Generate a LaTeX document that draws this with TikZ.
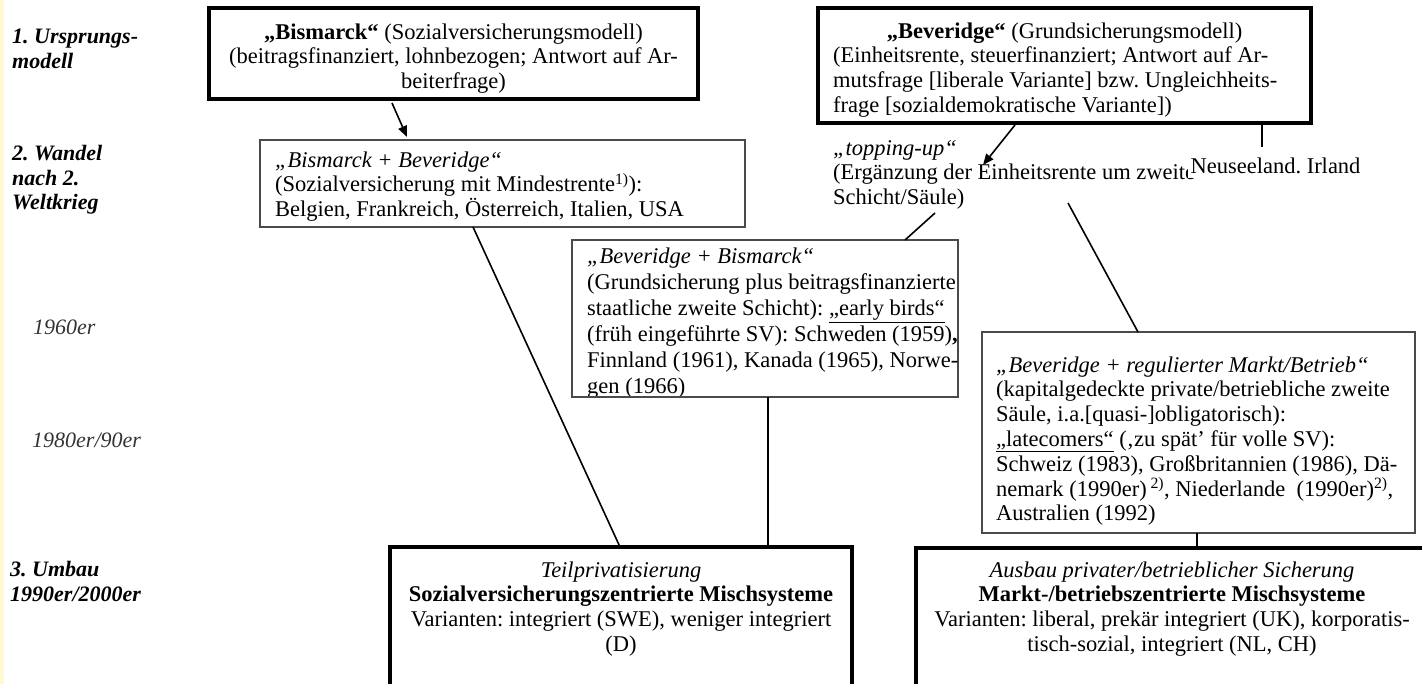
\documentclass[tikz,border=0pt]{standalone}
\usepackage{fontspec}
\setmainfont{Liberation Serif}
\usetikzlibrary{arrows.meta}
\definecolor{boxgray}{HTML}{4A4A4A}
\definecolor{stripe}{HTML}{FFF8D2}
\definecolor{yeargray}{HTML}{333333}
\begin{document}
\begin{tikzpicture}[x=1pt,y=-1pt,
  thickbox/.style={draw=black,line width=3.2pt,inner sep=0pt,outer sep=0pt,anchor=north west},
  thinbox/.style={draw=boxgray,line width=1.5pt,inner sep=0pt,outer sep=0pt,anchor=north west},
  body/.style={font={\fontsize{22.5}{24.8}\selectfont\lineskiplimit=-30pt\frenchspacing},inner sep=0pt,text=black},
  wide/.style={font={\fontsize{22.5}{26}\selectfont\lineskiplimit=-30pt\frenchspacing}},
  lbl/.style={font={\fontsize{22}{24.5}\selectfont\lineskiplimit=-30pt\bfseries\itshape\frenchspacing},inner sep=0pt,align=left,anchor=north west},
  yr/.style={font={\fontsize{22}{24.5}\selectfont\itshape},inner sep=0pt,anchor=base west,text=yeargray},
  conn/.style={draw=black,line width=1.6pt},
  arr/.style={conn,-{Triangle[length=11pt,width=9pt]}}
]
\useasboundingbox (0,0) rectangle (1422,684);
\clip (0,0) rectangle (1422,684);
\fill[white] (0,0) rectangle (1422,684);
\fill[stripe] (0,0) rectangle (4,684);

% left labels
\node[lbl] (l1) at (12,26.6) {\strut 1. Ursprungs-\\modell};
\node[lbl] (l2) at (12,143.6) {\strut 2. Wandel\\nach 2.\\Weltkrieg};
\node[yr] (l60) at (33,335) {1960er};
\node[yr] (l80) at (32,447) {1980er/90er};
\node[lbl] (l3) at (10,559.6) {\strut 3. Umbau\\1990er/2000er};

% boxes
\node[thickbox,minimum width=489pt,minimum height=91pt] (bism) at (209,8) {};
\node[thinbox,minimum width=485pt,minimum height=87pt] (bb) at (260,140) {};
\node[thickbox,minimum width=493pt,minimum height=115pt] (bev) at (818,8) {};
\node[thinbox,minimum width=386pt,minimum height=157pt] (bbism) at (572,240) {};
\node[thinbox,minimum width=433pt,minimum height=201pt] (bevreg) at (982,332) {};
\node[thickbox,minimum width=462pt,minimum height=180pt] (soz) at (390,547) {};
\node[thickbox,minimum width=514pt,minimum height=180pt] (markt) at (916,548) {};

% texts
\node[body,align=center,anchor=north] (bismtxt) at (453.5,21.6)
  {\strut\textbf{„Bismarck“} (Sozialversicherungsmodell)\\(beitragsfinanziert, lohnbezogen; Antwort auf Ar-\\beiterfrage)};
\node[body,align=left,anchor=north west] (bbtxt) at (275,149.6)
  {\strut\textit{„Bismarck + Beveridge“}\\(Sozialversicherung mit Mindestrente\textsuperscript{1)}):\\Belgien, Frankreich, Österreich, Italien, USA};
\node[body,align=left,anchor=north west] (bevtxt) at (833,20.6)
  {\strut\makebox[463pt][c]{\textbf{„Beveridge“} (Grundsicherungsmodell)}\\(Einheitsrente, steuerfinanziert; Antwort auf Ar-\\mutsfrage [liberale Variante] bzw. Ungleichheits-\\frage [sozialdemokratische Variante])};
\node[body,align=left,anchor=north west] (topup) at (833,137.6)
  {\strut\textit{„topping-up“}\\(Ergänzung der Einheitsrente um zweite\\Schicht/Säule)};
\node[body,anchor=base,fill=white,inner xsep=3pt,inner ysep=4pt] (neu) at (1275.5,174) {Neuseeland. Irland};
\node[body,wide,align=left,anchor=north west] (bbismtxt) at (587,245.2)
  {\strut\textit{„Beveridge + Bismarck“}\\(Grundsicherung plus beitragsfinanzierte\\staatliche zweite Schicht): \underline{„early birds“}\\(früh eingeführte SV): Schweden (1959)\textbf{,}\\Finnland (1961), Kanada (1965), Norwe-\\gen (1966)};
\node[body,align=left,anchor=north west] (bevregtxt) at (996,354.6)
  {\strut\textit{„Beveridge + regulierter Markt/Betrieb“}\\(kapitalgedeckte private/betriebliche zweite\\Säule, i.a.[quasi-]obligatorisch):\\\underline{„latecomers“} (‚zu spät’ für volle SV):\\Schweiz (1983), Großbritannien (1986), Dä-\\nemark (1990er)\,\textsuperscript{2)}, Niederlande\ \ (1990er)\textsuperscript{2)},\\Australien (1992)};
\node[body,align=center,anchor=north] (soztxt) at (621,559.6)
  {\strut\textit{Teilprivatisierung}\\\textbf{Sozialversicherungszentrierte Mischsysteme}\\Varianten: integriert (SWE), weniger integriert\\(D)};
\node[body,align=center,anchor=north] (markttxt) at (1172,559.6)
  {\strut\textit{Ausbau privater/betrieblicher Sicherung}\\\textbf{Markt-/betriebszentrierte Mischsysteme}\\Varianten: liberal, prekär integriert (UK), korporatis-\\tisch-sozial, integriert (NL, CH)};

% redraw bottom edge of bbism over its last text line
\draw[boxgray,line width=1.5pt] (bbism.south west) -- (bbism.south east);

% connectors
\draw[arr] ([xshift=183pt,yshift=-4pt]bism.south west) -- ([xshift=147pt,yshift=3pt]bb.north west);
\draw[conn] ([xshift=213pt]bb.south west) -- ([xshift=230pt]soz.north west);
\draw[arr] ([xshift=197pt,yshift=-2pt]bev.south west) -- ([xshift=150pt,yshift=-27.4pt]topup.north west);
\draw[conn] ([xshift=444pt]bev.south west) -- ([xshift=-13.5pt,yshift=27pt]neu.base);
\draw[conn] ([xshift=102pt,yshift=-75.4pt]topup.north west) -- ([xshift=333pt]bbism.north west);
\draw[conn] ([xshift=235pt,yshift=-65.4pt]topup.north west) -- ([xshift=156pt]bevreg.north west);
\draw[conn] ([xshift=196pt]bbism.south west) -- ([xshift=196pt]soz.north west -| bbism.south west);
\draw[conn] ([xshift=215pt]bevreg.south west) -- ([xshift=281pt]markt.north west);
\end{tikzpicture}
\end{document}
